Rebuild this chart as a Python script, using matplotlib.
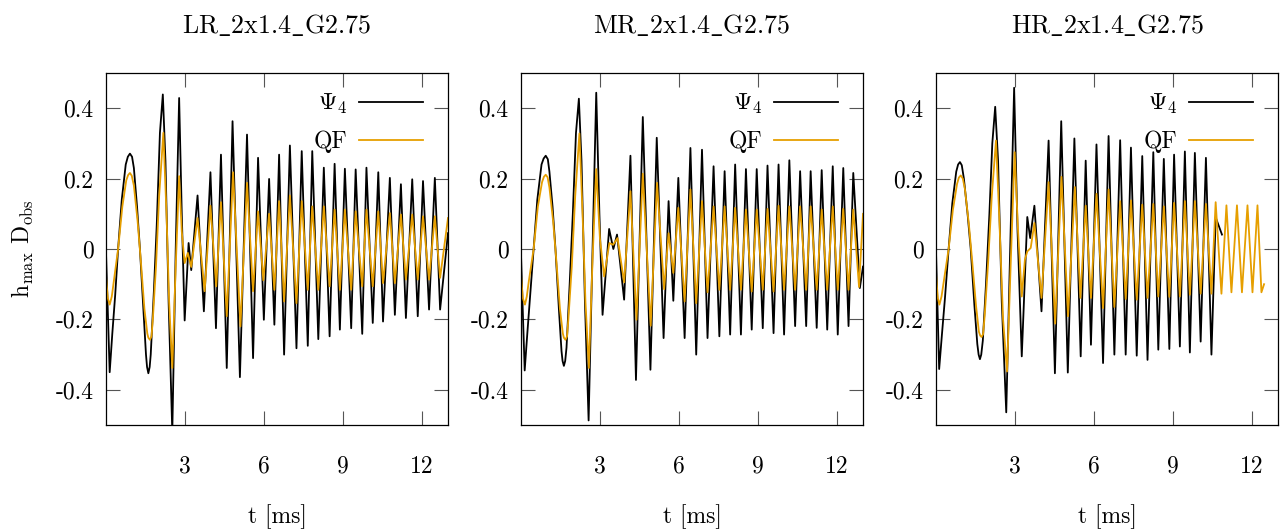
import matplotlib
matplotlib.use("Agg")
import matplotlib.pyplot as plt
from matplotlib.ticker import FixedLocator, FixedFormatter

plt.rcParams['font.family'] = 'serif'
plt.rcParams['font.serif'] = ['cmr10', 'DejaVu Serif']
plt.rcParams['mathtext.fontset'] = 'cm'
plt.rcParams['axes.unicode_minus'] = False
plt.rcParams['font.size'] = 17

titles = ["LR_2x1.4_G2.75", "MR_2x1.4_G2.75", "HR_2x1.4_G2.75"]

# ---- LR ----
lr_psi4_t = [0.0, 0.14, 0.24, 0.35, 0.46, 0.6, 0.75, 0.83, 0.91, 0.99, 1.06, 1.18, 1.29, 1.42, 1.52, 1.56, 1.61, 1.66, 1.70,
             1.82, 1.93, 2.05, 2.16, 2.26, 2.38, 2.52, 2.65, 2.78, 2.88, 2.99, 3.14, 3.24, 3.48, 3.72,
             3.97, 4.18, 4.37, 4.59, 4.81, 5.09, 5.36, 5.59, 5.78, 6.0, 6.2, 6.40, 6.58, 6.77, 6.99,
             7.24, 7.44, 7.67, 7.84, 8.07, 8.28, 8.50, 8.69, 8.89, 9.08, 9.32, 9.49, 9.74, 9.90, 10.14,
             10.35, 10.53, 10.79, 10.98, 11.21, 11.40, 11.64, 11.85, 12.05, 12.28, 12.50, 12.70, 13.0]
lr_psi4_h = [-0.01, -0.35, -0.24, -0.13, 0.0, 0.14, 0.24, 0.262, 0.271, 0.262, 0.23, 0.12, 0.0, -0.17, -0.3, -0.335, -0.353, -0.335, -0.3,
             -0.12, 0.07, 0.33, 0.439, 0.25, -0.15, -0.52, 0.0, 0.429, 0.1, -0.203, 0.017, -0.06, 0.152, -0.177,
             0.218, -0.225, 0.268, -0.338, 0.363, -0.364, 0.325, -0.31, 0.259, -0.201, 0.199, -0.215, 0.268, -0.30, 0.294,
             -0.282, 0.278, -0.275, 0.278, -0.256, 0.231, -0.248, 0.242, -0.229, 0.228, -0.225, 0.226, -0.241, 0.231, -0.210,
             0.218, -0.206, 0.202, -0.187, 0.184, -0.196, 0.198, -0.191, 0.193, -0.172, 0.202, -0.172, 0.045]
lr_qf_t = [0.0, 0.07, 0.14, 0.22, 0.3, 0.46, 0.62, 0.77, 0.84, 0.91, 0.98, 1.06, 1.2, 1.32, 1.46, 1.57, 1.61, 1.67, 1.73, 1.78, 1.9,
           2.02, 2.18, 2.3, 2.4, 2.52, 2.65, 2.78, 2.88, 2.99, 3.11, 3.24, 3.48, 3.75, 3.97, 4.19,
           4.37, 4.59, 4.83, 5.11, 5.36, 5.59, 5.78, 5.98, 6.2, 6.40, 6.58, 6.77, 6.99, 7.24, 7.44,
           7.67, 7.84, 8.07, 8.28, 8.50, 8.69, 8.89, 9.08, 9.32, 9.49, 9.74, 9.90, 10.14, 10.35, 10.53,
           10.79, 10.98, 11.21, 11.40, 11.64, 11.85, 12.05, 12.28, 12.50, 12.70, 13.0]
lr_qf_h = [-0.078, -0.14, -0.158, -0.135, -0.09, 0.0, 0.12, 0.195, 0.21, 0.216, 0.208, 0.18, 0.08, -0.03, -0.17, -0.24, -0.252, -0.258, -0.248, -0.2, -0.05,
           0.15, 0.33, 0.1, -0.15, -0.338, -0.05, 0.207, 0.05, -0.04, -0.011, -0.051, 0.088, -0.12, 0.123, -0.106,
           0.133, -0.191, 0.218, -0.22, 0.188, -0.12, 0.107, -0.089, 0.10, -0.116, 0.136, -0.149, 0.152, -0.154, 0.136,
           -0.116, 0.121, -0.116, 0.121, -0.106, 0.112, -0.116, 0.112, -0.116, 0.107, -0.106, 0.112, -0.106, 0.107, -0.097,
           0.102, -0.097, 0.098, -0.087, 0.098, -0.087, 0.093, -0.087, 0.093, -0.082, 0.088]

# ---- MR ----
mr_psi4_t = [0.0, 0.14, 0.24, 0.35, 0.48, 0.62, 0.78, 0.86, 0.94, 1.02, 1.08, 1.2, 1.31, 1.44, 1.54, 1.58, 1.63, 1.68, 1.73,
             1.85, 1.97, 2.09, 2.2, 2.3, 2.43, 2.57, 2.72, 2.86, 2.98, 3.10, 3.35, 3.51, 3.65, 3.92,
             4.16, 4.37, 4.63, 4.92, 5.16, 5.42, 5.61, 5.79, 5.98, 6.22, 6.44, 6.66, 6.88, 7.09, 7.32,
             7.54, 7.74, 7.95, 8.14, 8.36, 8.55, 8.77, 8.96, 9.19, 9.37, 9.60, 9.79, 10.0, 10.20, 10.42,
             10.61, 10.84, 11.01, 11.24, 11.43, 11.64, 11.85, 12.04, 12.25, 12.45, 12.63, 12.88, 13.0]
mr_psi4_h = [-0.016, -0.345, -0.24, -0.13, 0.0, 0.14, 0.24, 0.257, 0.265, 0.255, 0.22, 0.12, 0.0, -0.17, -0.29, -0.318, -0.332, -0.318, -0.28,
             -0.1, 0.1, 0.33, 0.427, 0.25, -0.15, -0.487, 0.0, 0.444, 0.1, -0.187, 0.057, 0.0, 0.041, -0.144,
             0.265, -0.372, 0.375, -0.343, 0.316, -0.253, 0.136, -0.147, 0.202, -0.253, 0.287, -0.30, 0.282, -0.253, 0.235,
             -0.248, 0.221, -0.243, 0.24, -0.243, 0.227, -0.229, 0.227, -0.225, 0.237, -0.239, 0.24, -0.243, 0.252, -0.219,
             0.221, -0.219, 0.221, -0.224, 0.224, -0.229, 0.235, -0.243, 0.23, -0.219, 0.216, -0.111, -0.05]
mr_qf_t = [0.0, 0.07, 0.15, 0.22, 0.3, 0.48, 0.64, 0.8, 0.87, 0.94, 1.01, 1.08, 1.22, 1.34, 1.48, 1.59, 1.63, 1.69, 1.75, 1.8, 1.93,
           2.06, 2.22, 2.34, 2.45, 2.58, 2.72, 2.86, 3.0, 3.16, 3.36, 3.5, 3.67, 3.92, 4.16, 4.39,
           4.63, 4.93, 5.17, 5.44, 5.61, 5.79, 5.98, 6.22, 6.44, 6.66, 6.88, 7.09, 7.32, 7.54, 7.74,
           7.95, 8.14, 8.36, 8.55, 8.77, 8.96, 9.19, 9.37, 9.60, 9.79, 10.0, 10.20, 10.42, 10.61, 10.84,
           11.01, 11.24, 11.43, 11.64, 11.85, 12.04, 12.25, 12.45, 12.63, 12.85, 13.0]
mr_qf_h = [-0.073, -0.14, -0.158, -0.135, -0.09, 0.0, 0.12, 0.19, 0.205, 0.211, 0.204, 0.175, 0.08, -0.03, -0.17, -0.24, -0.252, -0.258, -0.248, -0.2, -0.05,
           0.15, 0.328, 0.1, -0.15, -0.338, -0.03, 0.227, 0.03, -0.078, 0.017, 0.012, 0.031, -0.095, 0.164, -0.201,
           0.214, -0.218, 0.188, -0.114, 0.045, -0.068, 0.117, -0.149, 0.169, -0.154, 0.136, -0.123, 0.121, -0.116, 0.121,
           -0.116, 0.117, -0.116, 0.112, -0.121, 0.112, -0.116, 0.114, -0.121, 0.123, -0.116, 0.121, -0.116, 0.121, -0.116,
           0.121, -0.116, 0.112, -0.116, 0.121, -0.116, 0.114, -0.116, 0.112, -0.108, 0.10]

# ---- HR ----
hr_psi4_t = [0.0, 0.12, 0.22, 0.34, 0.48, 0.62, 0.77, 0.84, 0.91, 0.98, 1.06, 1.2, 1.32, 1.46, 1.57, 1.62, 1.67, 1.72, 1.78,
             1.9, 2.03, 2.14, 2.25, 2.36, 2.5, 2.67, 2.82, 2.97, 3.1, 3.26, 3.47, 3.58, 3.74, 4.01,
             4.28, 4.52, 4.76, 5.01, 5.26, 5.5, 5.69, 5.89, 6.1, 6.35, 6.56, 6.78, 7.0, 7.21, 7.41,
             7.63, 7.84, 8.04, 8.26, 8.45, 8.66, 8.87, 9.05, 9.27, 9.46, 9.65, 9.84, 10.06, 10.26, 10.47,
             10.63, 10.87]
hr_psi4_h = [-0.007, -0.341, -0.248, -0.14, 0.0, 0.13, 0.22, 0.24, 0.247, 0.238, 0.2, 0.1, 0.0, -0.16, -0.27, -0.3, -0.313, -0.3, -0.26,
             -0.1, 0.1, 0.3, 0.404, 0.25, -0.15, -0.464, 0.0, 0.458, 0.05, -0.305, 0.091, 0.031, 0.123, -0.177,
             0.308, -0.353, 0.363, -0.351, 0.314, -0.305, 0.251, -0.272, 0.297, -0.324, 0.321, -0.30, 0.309, -0.30, 0.288,
             -0.303, 0.264, -0.315, 0.275, -0.286, 0.256, -0.284, 0.268, -0.277, 0.277, -0.294, 0.273, -0.263, 0.259, -0.30,
             0.09, 0.041]
hr_qf_t = [0.0, 0.07, 0.13, 0.21, 0.3, 0.48, 0.64, 0.8, 0.87, 0.94, 1.02, 1.1, 1.25, 1.37, 1.52, 1.63, 1.68, 1.73, 1.79, 1.85, 1.98,
           2.12, 2.28, 2.4, 2.55, 2.70, 2.85, 2.99, 3.12, 3.26, 3.38, 3.47, 3.6, 3.74, 4.01, 4.28,
           4.53, 4.77, 5.02, 5.28, 5.49, 5.69, 5.89, 6.1, 6.35, 6.56, 6.78, 7.0, 7.21, 7.41, 7.63,
           7.84, 8.04, 8.26, 8.45, 8.66, 8.87, 9.05, 9.27, 9.46, 9.65, 9.84, 10.06, 10.26, 10.47, 10.63,
           10.85, 11.04, 11.23, 11.44, 11.63, 11.84, 12.03, 12.22, 12.37, 12.47]
hr_qf_h = [-0.07, -0.14, -0.158, -0.135, -0.09, 0.0, 0.11, 0.185, 0.203, 0.209, 0.2, 0.17, 0.07, -0.03, -0.16, -0.235, -0.246, -0.25, -0.242, -0.19, -0.04,
           0.15, 0.308, 0.1, -0.2, -0.348, -0.02, 0.275, 0.05, -0.135, -0.03, -0.007, 0.003, 0.074, -0.139, 0.19,
           -0.212, 0.205, -0.191, 0.176, -0.139, 0.123, -0.139, 0.157, -0.168, 0.169, -0.165, 0.136, -0.142, 0.138, -0.144,
           0.126, -0.139, 0.128, -0.135, 0.121, -0.136, 0.131, -0.135, 0.136, -0.13, 0.136, -0.127, 0.128, -0.127, 0.133,
           -0.127, 0.124, -0.123, 0.124, -0.123, 0.124, -0.123, 0.124, -0.123, -0.10]

psi4_t = [lr_psi4_t, mr_psi4_t, hr_psi4_t]
psi4_h = [lr_psi4_h, mr_psi4_h, hr_psi4_h]
qf_t = [lr_qf_t, mr_qf_t, hr_qf_t]
qf_h = [lr_qf_h, mr_qf_h, hr_qf_h]

xticks = [3, 6, 9, 12]
yticks = [-0.4, -0.2, 0, 0.2, 0.4]
ytick_labels = ["-0.4", "-0.2", "0", "0.2", "0.4"]

fig = plt.figure(figsize=(12.85, 5.29), dpi=100)
lefts = [106, 521, 936]
for i in range(3):
    ax = fig.add_axes([lefts[i] / 1285, 104 / 529, 342 / 1285, 352 / 529])
    ax.plot(psi4_t[i], psi4_h[i], color='black', lw=1.3, label=r'$\mathbf{\Psi}_4$')
    ax.plot(qf_t[i], qf_h[i], color='#e69f00', lw=1.3, label='QF')
    ax.set_xlim(0, 13)
    ax.set_ylim(-0.5, 0.5)
    ax.xaxis.set_major_locator(FixedLocator(xticks))
    ax.yaxis.set_major_locator(FixedLocator(yticks))
    ax.yaxis.set_major_formatter(FixedFormatter(ytick_labels))
    ax.tick_params(direction='in', top=True, right=True, length=10, width=0.8, color='#555555')
    ax.tick_params(axis='x', pad=22)
    ax.tick_params(axis='y', pad=9)
    for s in ax.spines.values():
        s.set_linewidth(0.9)
    ax.set_title(titles[i].replace('_', r'\_').join([r'$\mathrm{', '}$']), pad=29, fontsize=18.7)
    ax.set_xlabel('t [ms]', labelpad=19)
    if i == 0:
        ax.set_ylabel(r'h$_{\rm max}$ D$_{\rm obs}$', labelpad=14)
    ax.legend(loc='upper right', bbox_to_anchor=(0.927, 0.945), frameon=False, markerfirst=False,
              borderpad=0, borderaxespad=0, handlelength=2.7, handletextpad=0.5, labelspacing=0.6)

fig.savefig('out.png', dpi=100)
